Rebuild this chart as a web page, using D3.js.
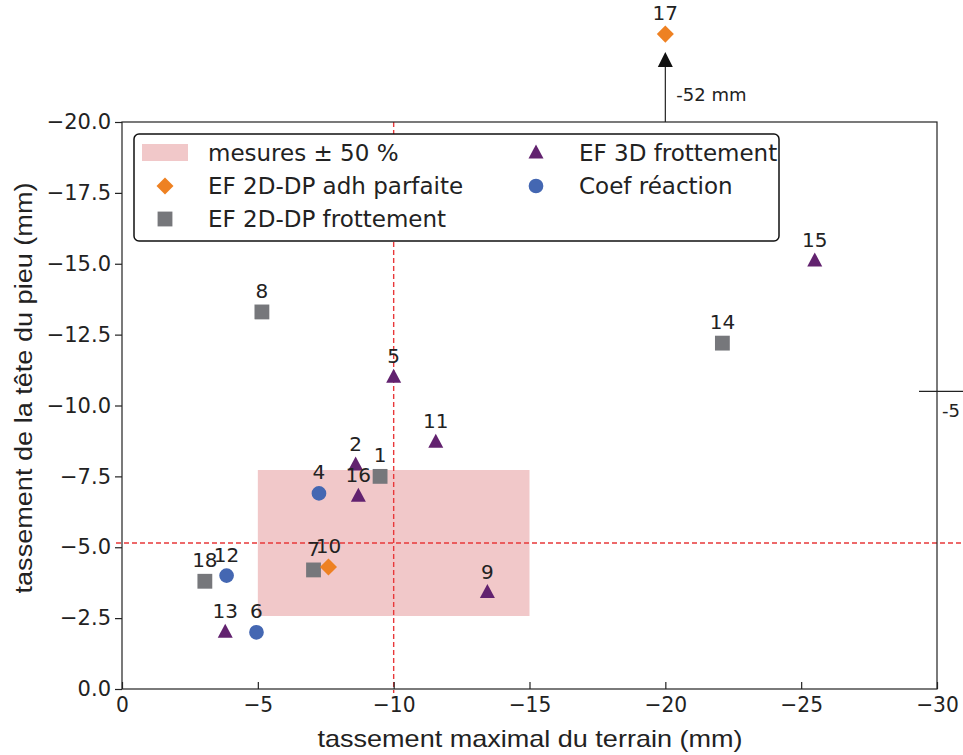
<!DOCTYPE html>
<html>
<head>
<meta charset="utf-8">
<script src="https://cdn.jsdelivr.net/npm/d3@7"></script>
<style>
  body { margin: 0; background: #fff; }
  svg text { font-family: "DejaVu Sans", sans-serif; fill: #222; }
  .arial { font-family: "Liberation Sans", Arial, sans-serif; }
</style>
</head>
<body>
<div id="chart"></div>
<script>
// data: [id, x (tassement terrain), y (tassement pieu)]
const adhParfaite = [[10, -7.6, -4.3], [17, -20, -23.1]];
const frottement2D = [[1, -9.5, -7.5], [7, -7.05, -4.2], [8, -5.15, -13.3], [14, -22.1, -12.2], [18, -3.05, -3.8]];
const frottement3D = [[2, -8.6, -7.9], [5, -10, -11.0], [9, -13.45, -3.4], [11, -11.55, -8.7], [13, -3.8, -2.0], [15, -25.5, -15.1], [16, -8.7, -6.8]];
const coefReaction = [[4, -7.25, -6.9], [6, -4.95, -2.0], [12, -3.85, -4.0]];
const mesureX = -10;
const mesureY = -5.15;
const xTicks = [0, -5, -10, -15, -20, -25, -30];
const yTicks = [0, -2.5, -5, -7.5, -10, -12.5, -15, -17.5, -20];

const colors = { adh: '#ee8122', f2d: '#76777b', f3d: '#62226f', coef: '#4467b2', band: '#f1c8c9', ref: '#e8383a' };

const W = 963, H = 755;
const margin = { top: 122, right: 26, bottom: 66, left: 122 };
const width = W - margin.left - margin.right;
const height = H - margin.top - margin.bottom;

const svg = d3.select('#chart').append('svg').attr('width', W).attr('height', H);
const g = svg.append('g').attr('transform', `translate(${margin.left},${margin.top})`);

const x = d3.scaleLinear().domain([0, -30]).range([0, width]);
const y = d3.scaleLinear().domain([0, -20]).range([height, 0]);

// measurement band +/- 50 %
g.append('rect')
  .attr('x', x(mesureX * 0.5)).attr('width', x(mesureX * 1.5) - x(mesureX * 0.5))
  .attr('y', y(mesureY * 1.5)).attr('height', y(mesureY * 0.5) - y(mesureY * 1.5))
  .attr('fill', colors.band);

// reference lines
g.append('line').attr('x1', x(mesureX)).attr('x2', x(mesureX)).attr('y1', 0).attr('y2', height + 4)
  .attr('stroke', colors.ref).attr('stroke-width', 1.4).attr('stroke-dasharray', '5,3');
g.append('line').attr('x1', -6).attr('x2', width + margin.right).attr('y1', y(mesureY)).attr('y2', y(mesureY))
  .attr('stroke', colors.ref).attr('stroke-width', 1.4).attr('stroke-dasharray', '5,3');

// axes
const fmtY = d => d3.format('.1f')(d).replace('-', '\u2212');
const fmtX = d => d3.format('d')(d).replace('-', '\u2212');

const yAxis = g.append('g').call(d3.axisLeft(y).tickValues(yTicks).tickSize(7).tickPadding(4).tickFormat(fmtY));
yAxis.selectAll('text').attr('font-size', 21);
const xAxis = g.append('g').attr('transform', `translate(0,${height})`)
  .call(d3.axisBottom(x).tickValues(xTicks).tickSize(-7).tickPadding(8).tickFormat(fmtX));
xAxis.selectAll('text').attr('font-size', 22).attr('dy', '0.68em').attr('transform', 'scale(0.92,1)');
g.selectAll('.domain').remove();
g.selectAll('.tick line').attr('stroke', '#222').attr('stroke-width', 1.2);

// frame
g.append('rect').attr('width', width).attr('height', height)
  .attr('fill', 'none').attr('stroke', '#222').attr('stroke-width', 1.2);

// marker shapes
const triPath = 'M0,-8.5L7.5,5.5L-7.5,5.5Z';
const sym = {
  adh: d3.symbol().type(d3.symbolDiamond2).size(185),
  f2d: d3.symbol().type(d3.symbolSquare).size(220),
  f3d: () => triPath,
  coef: d3.symbol().type(d3.symbolCircle).size(170)
};

function drawSeries(data, key) {
  const grp = g.append('g');
  grp.selectAll('path').data(data).join('path')
    .attr('d', sym[key]).attr('fill', colors[key])
    .attr('transform', d => `translate(${x(d[1])},${y(d[2])})`);
  grp.selectAll('text').data(data).join('text')
    .attr('x', d => x(d[1])).attr('y', d => y(d[2]) - 14)
    .attr('text-anchor', 'middle').attr('font-size', 20)
    .text(d => d[0]);
}
drawSeries(frottement2D, 'f2d');
drawSeries(frottement3D, 'f3d');
drawSeries(coefReaction, 'coef');
drawSeries(adhParfaite, 'adh');

// off-scale arrow for point 17
const p17 = adhParfaite[1];
g.append('line').attr('x1', x(p17[1])).attr('x2', x(p17[1])).attr('y1', 0).attr('y2', -58)
  .attr('stroke', '#222').attr('stroke-width', 1.2);
g.append('path').attr('d', 'M-7.5,0 L7.5,0 L0,-15 Z').attr('fill', '#111')
  .attr('transform', `translate(${x(p17[1])},${-55})`);
g.append('text').attr('x', x(p17[1]) + 11).attr('y', -21).attr('font-size', 18).text('-52 mm');

// off-scale marker at right edge
g.append('line').attr('x1', width - 18).attr('x2', width + margin.right).attr('y1', y(-10.5)).attr('y2', y(-10.5))
  .attr('stroke', '#222').attr('stroke-width', 1.2);
g.append('text').attr('x', width + 5).attr('y', y(-10.5) + 26).attr('font-size', 18).text('-5');

// axis titles
svg.append('text').attr('class', 'arial').attr('x', 530).attr('y', 747)
  .attr('text-anchor', 'middle').attr('font-size', 24)
  .attr('textLength', 425).attr('lengthAdjust', 'spacingAndGlyphs')
  .text('tassement maximal du terrain (mm)');
svg.append('text').attr('class', 'arial').attr('transform', 'translate(32,388) rotate(-90)')
  .attr('text-anchor', 'middle').attr('font-size', 23)
  .attr('textLength', 411).attr('lengthAdjust', 'spacingAndGlyphs')
  .text('tassement de la tête du pieu (mm)');

// legend
const leg = g.append('g').attr('transform', 'translate(12,12)');
leg.append('rect').attr('width', 645).attr('height', 107).attr('rx', 5)
  .attr('fill', '#fff').attr('stroke', '#111').attr('stroke-width', 1.5);
const legendItems = [
  { key: 'band', label: 'mesures \u00b1 50 %', col: 0, row: 0 },
  { key: 'adh', label: 'EF 2D-DP adh parfaite', col: 0, row: 1 },
  { key: 'f2d', label: 'EF 2D-DP frottement', col: 0, row: 2 },
  { key: 'f3d', label: 'EF 3D frottement', col: 1, row: 0 },
  { key: 'coef', label: 'Coef réaction', col: 1, row: 1 }
];
legendItems.forEach(it => {
  const cx = it.col === 0 ? 31 : 402;
  const cy = 19 + it.row * 33;
  if (it.key === 'band') {
    leg.append('rect').attr('x', 8).attr('y', cy - 9).attr('width', 46).attr('height', 17).attr('fill', colors.band);
  } else {
    leg.append('path').attr('d', sym[it.key]).attr('fill', colors[it.key]).attr('transform', `translate(${cx},${cy})`);
  }
  leg.append('text').attr('x', it.col === 0 ? 74 : 445).attr('y', cy + 8).attr('font-size', 23).text(it.label);
});
</script>
</body>
</html>
